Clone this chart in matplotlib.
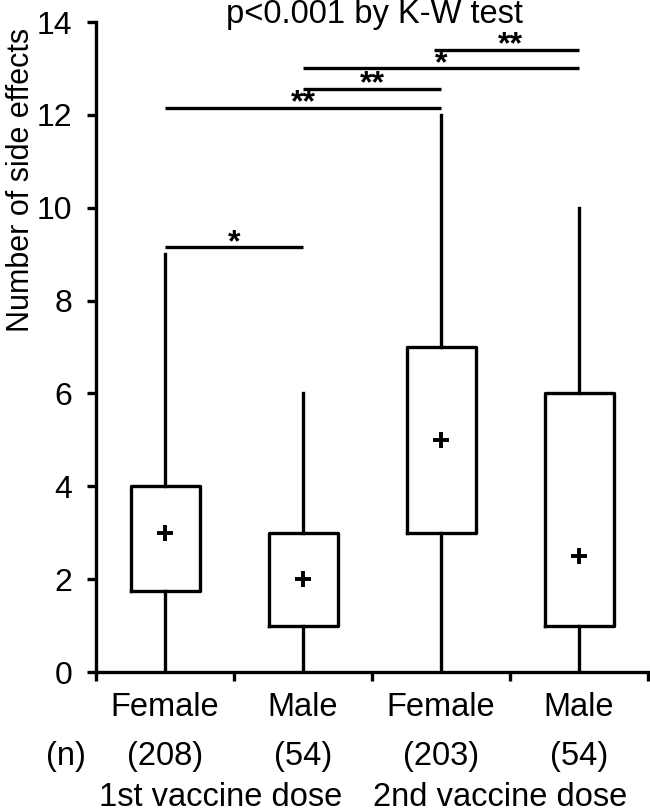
import matplotlib
matplotlib.use("Agg")
import matplotlib.pyplot as plt
from matplotlib.transforms import blended_transform_factory

plt.rcParams['font.family'] = ['Liberation Sans', 'DejaVu Sans']

# ---- data ----
groups = ["Female", "Male", "Female", "Male"]
n_labels = ["(208)", "(54)", "(203)", "(54)"]
dose_labels = ["1st vaccine dose", "2nd vaccine dose"]
whisker_low = [0, 0, 0, 0]
q1 = [1.75, 1, 3, 1]
center_mark = [3, 2, 5, 2.5]
q3 = [4, 3, 7, 6]
whisker_high = [9, 6, 12, 10]
# significance brackets: (start group, end group, height, label)
sig_start = [1, 1, 2, 2, 2.95]
sig_end = [2, 3, 3, 4, 4]
sig_mid = [1.5, 2, 2.5, 3, 3.5]
sig_y = [9.15, 12.15, 12.56, 13.0, 13.4]
sig_text = ["*", "**", "**", "*", "**"]
title = "p<0.001 by K-W test"
ylabel = "Number of side effects"

FS = 23.5
LW = 2.4

fig = plt.figure(figsize=(6.5, 8.11), dpi=100)
ax = fig.add_axes([96/650, 1-672/811, (648-96)/650, (672-22)/811])

stats = []
for i in range(len(groups)):
    stats.append(dict(whislo=whisker_low[i], q1=q1[i], med=center_mark[i],
                      mean=center_mark[i], q3=q3[i], whishi=whisker_high[i], fliers=[]))
pos = list(range(1, len(groups)+1))
ax.bxp(stats, positions=pos, widths=0.5, showcaps=False, showfliers=False,
       showmeans=True, patch_artist=False,
       boxprops=dict(color='black', linewidth=LW),
       whiskerprops=dict(color='black', linewidth=LW),
       medianprops=dict(linewidth=0),
       meanprops=dict(marker='+', markersize=11, markeredgewidth=2.8,
                      markeredgecolor='black', markerfacecolor='black'))

ax.set_xlim(0.5, 4.5)
ax.set_ylim(0, 14)
ax.set_yticks(range(0, 15, 2))
ax.set_xticks([0.5, 1.5, 2.5, 3.5, 4.5])
ax.set_xticklabels([])
for s in ['top', 'right']:
    ax.spines[s].set_visible(False)
for s in ['left', 'bottom']:
    ax.spines[s].set_linewidth(LW)
ax.tick_params(axis='both', width=LW, length=6.5, direction='out', labelsize=23)
ax.tick_params(axis='y', pad=10.5)

# significance brackets
for x0, x1, xm, y, t in zip(sig_start, sig_end, sig_mid, sig_y, sig_text):
    ax.plot([x0, x1], [y, y], color='black', linewidth=LW, solid_capstyle='butt', clip_on=False)
    ax.text(xm, y - 0.08, t, ha='center', va='baseline', fontsize=23,
            fontweight='bold', clip_on=False)

trans = blended_transform_factory(ax.transData, fig.transFigure)
for p, g, n in zip(pos, groups, n_labels):
    ax.text(p, 1 - 708/811, g, ha='center', va='center', fontsize=FS, transform=trans)
    ax.text(p, 1 - 757/811, n, ha='center', va='center', fontsize=FS, transform=trans)
ax.text(0.283, 1 - 757/811, "(n)", ha='center', va='center', fontsize=FS, transform=trans)
ax.text(1.40, 1 - 797/811, dose_labels[0], ha='center', va='center', fontsize=FS, transform=trans)
ax.text(3.43, 1 - 797/811, dose_labels[1], ha='center', va='center', fontsize=FS, transform=trans)

fig.text(374/650, 1 - 15/811, title, ha='center', va='center', fontsize=FS)
fig.text(21/650, 1 - 180/811, ylabel, ha='center', va='center', rotation=90, fontsize=22)

fig.savefig("out.png", dpi=100)
